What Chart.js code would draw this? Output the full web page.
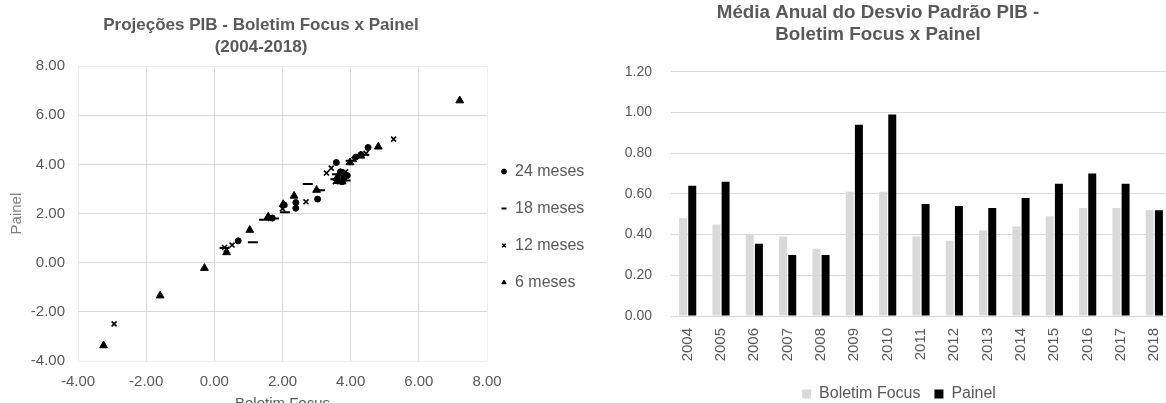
<!DOCTYPE html>
<html>
<head>
<meta charset="utf-8">
<script src="https://cdn.jsdelivr.net/npm/chart.js@4.4.1/dist/chart.umd.min.js"></script>
<style>
  html, body { margin: 0; padding: 0; width: 1166px; height: 403px; overflow: hidden; background: #fff; }
  canvas { position: absolute; top: 0; }
  #scatterChart { left: 0; }
  #barChart { left: 585px; }
</style>
</head>
<body>
<canvas id="scatterChart" width="600" height="416"></canvas>
<canvas id="barChart" width="600" height="412"></canvas>
<script>
// --- scatter: [Boletim Focus, Painel] per horizon
const meses24 = [[0.70,0.89],[1.70,1.82],[2.05,2.35],[2.39,2.45],[2.39,2.22],[3.03,2.59],[3.58,4.08],[4.51,4.69],
  [4.30,4.40],[3.70,3.70],[3.80,3.45],[3.65,3.35],[3.90,3.55],[4.15,4.30],[3.75,3.30]];
const meses18 = [[1.13,0.83],[1.46,1.75],[2.07,2.05],[2.74,3.20],[3.10,2.95],[3.55,3.40],[3.65,3.25],[3.75,3.55],
  [4.00,4.15],[4.20,4.30],[4.40,4.40],[3.85,3.35],[3.60,3.60],[1.75,1.80],[0.30,0.60]];
const meses12 = [[-2.94,-2.49],[0.30,0.62],[0.52,0.72],[2.00,2.20],[2.69,2.48],[3.29,3.65],[3.43,3.85],[5.26,5.03],
  [3.70,3.55],[4.10,4.20],[4.45,4.45],[3.55,3.30],[1.65,1.80],[3.85,3.70],[0.35,0.55]];
const meses6 = [[-3.25,-3.37],[-1.59,-1.34],[-0.29,-0.22],[0.36,0.42],[1.04,1.33],[1.58,1.87],[2.02,2.38],[2.34,2.72],
  [3.00,2.96],[3.98,4.08],[4.81,4.72],[7.20,6.60],[3.60,3.45],[4.30,4.35],[3.75,3.30]];
const axisTicks = [-4, -2, 0, 2, 4, 6, 8];

// --- bars: annual mean of std deviation
const years = ['2004','2005','2006','2007','2008','2009','2010','2011','2012','2013','2014','2015','2016','2017','2018'];
const focusDesvio = [0.48,0.45,0.40,0.39,0.33,0.61,0.61,0.39,0.37,0.42,0.44,0.49,0.53,0.53,0.52];
const painelDesvio = [0.64,0.66,0.355,0.30,0.30,0.94,0.99,0.55,0.54,0.53,0.58,0.65,0.70,0.65,0.52];

Chart.defaults.font.family = "'Liberation Sans', Arial, sans-serif";
Chart.defaults.color = '#595959';

const toXY = arr => arr.map(p => ({x: p[0], y: p[1]}));
const fmt = v => Number(v).toFixed(2);

// moves title / legend boxes after layout, so they can sit off the canvas centre
const nudge = {
  id: 'nudge',
  afterLayout(chart, args, opts) {
    const shift = (box, dx, dy) => {
      if (!box) return;
      box.left += dx; box.right += dx;
      box.top += dy; box.bottom += dy;
    };
    shift(chart.titleBlock, opts.titleDx || 0, 0);
    shift(chart.legend, opts.legendDx || 0, opts.legendDy || 0);
  }
};

const edgeGrid = c => (c.tick && (c.tick.value === -4 || c.tick.value === 8)) ? '#eeeeee' : '#d9d9d9';

new Chart(document.getElementById('scatterChart'), {
  type: 'scatter',
  data: {
    datasets: [
      {label: '24 meses', data: toXY(meses24), pointStyle: 'circle', pointRadius: 3,
        backgroundColor: '#000', borderColor: '#000', borderWidth: 1},
      {label: '18 meses', data: toXY(meses18), pointStyle: 'line', pointRadius: 5,
        backgroundColor: '#000', borderColor: '#000', borderWidth: 2},
      {label: '12 meses', data: toXY(meses12), pointStyle: 'crossRot', pointRadius: 3.5,
        backgroundColor: '#000', borderColor: '#000', borderWidth: 1.6},
      {label: '6 meses', data: toXY(meses6), pointStyle: 'triangle', pointRadius: 4.5,
        backgroundColor: '#000', borderColor: '#000', borderWidth: 1}
    ]
  },
  plugins: [nudge],
  options: {
    responsive: false,
    animation: false,
    events: [],
    layout: {padding: 0},
    plugins: {
      title: {
        display: true,
        text: ['Projeções PIB - Boletim Focus x Painel', '(2004-2018)'],
        font: {size: 17, weight: 'bold', lineHeight: 1.3},
        color: '#595959',
        padding: {top: 14, bottom: 8}
      },
      legend: {
        position: 'right',
        maxWidth: 113,
        labels: {usePointStyle: true, boxWidth: 6, boxHeight: 3.5, padding: 21,
          font: {size: 16}, color: '#595959'}
      },
      tooltip: {enabled: false},
      nudge: {titleDx: -39, legendDx: -7, legendDy: 19}
    },
    scales: {
      x: {
        type: 'linear', min: -4, max: 8,
        afterBuildTicks: s => { s.ticks = axisTicks.map(v => ({value: v})); },
        afterFit: s => { s.height = 55; },
        ticks: {callback: fmt, padding: 12, font: {size: 15}, color: '#595959'},
        grid: {color: edgeGrid, drawTicks: false},
        border: {display: false},
        title: {display: true, text: 'Boletim Focus', font: {size: 15}, color: '#595959', padding: {top: 0, bottom: 3}}
      },
      y: {
        type: 'linear', min: -4, max: 8,
        afterBuildTicks: s => { s.ticks = axisTicks.map(v => ({value: v})); },
        afterFit: s => { s.width = 78; },
        ticks: {callback: fmt, padding: 13, font: {size: 15}, color: '#595959'},
        grid: {color: edgeGrid, drawTicks: false},
        border: {display: false},
        title: {display: true, text: 'Painel', font: {size: 15}, color: '#7f7f7f', padding: {top: 8, bottom: 0}}
      }
    }
  }
});

new Chart(document.getElementById('barChart'), {
  type: 'bar',
  data: {
    labels: years,
    datasets: [
      {label: 'Boletim Focus', data: focusDesvio, backgroundColor: '#d9d9d9',
        categoryPercentage: 0.55, barPercentage: 0.87},
      {label: 'Painel', data: painelDesvio, backgroundColor: '#000000',
        categoryPercentage: 0.55, barPercentage: 0.87}
    ]
  },
  plugins: [nudge],
  options: {
    responsive: false,
    animation: false,
    events: [],
    layout: {padding: {left: 0, right: 14, top: 0, bottom: 0}},
    plugins: {
      title: {
        display: true,
        text: ['Média Anual do Desvio Padrão PIB -', 'Boletim Focus x Painel'],
        font: {size: 18.8, weight: 'bold', lineHeight: 1.15},
        color: '#595959',
        padding: {top: 2.5, bottom: 26}
      },
      legend: {
        position: 'bottom',
        labels: {boxWidth: 9, boxHeight: 9, padding: 14, font: {size: 16}, color: '#595959'}
      },
      tooltip: {enabled: false},
      nudge: {legendDx: 21}
    },
    scales: {
      x: {
        afterFit: s => { s.height = 56; },
        ticks: {minRotation: 90, maxRotation: 90, padding: 12, font: {size: 15}, color: '#595959'},
        grid: {display: false, drawTicks: false},
        border: {display: false}
      },
      y: {
        min: 0, max: 1.2,
        afterFit: s => { s.width = 86; },
        ticks: {stepSize: 0.2, callback: fmt, padding: 19, font: {size: 14}, color: '#595959'},
        grid: {color: '#d9d9d9', drawTicks: false},
        border: {display: false}
      }
    }
  }
});
</script>
</body>
</html>
